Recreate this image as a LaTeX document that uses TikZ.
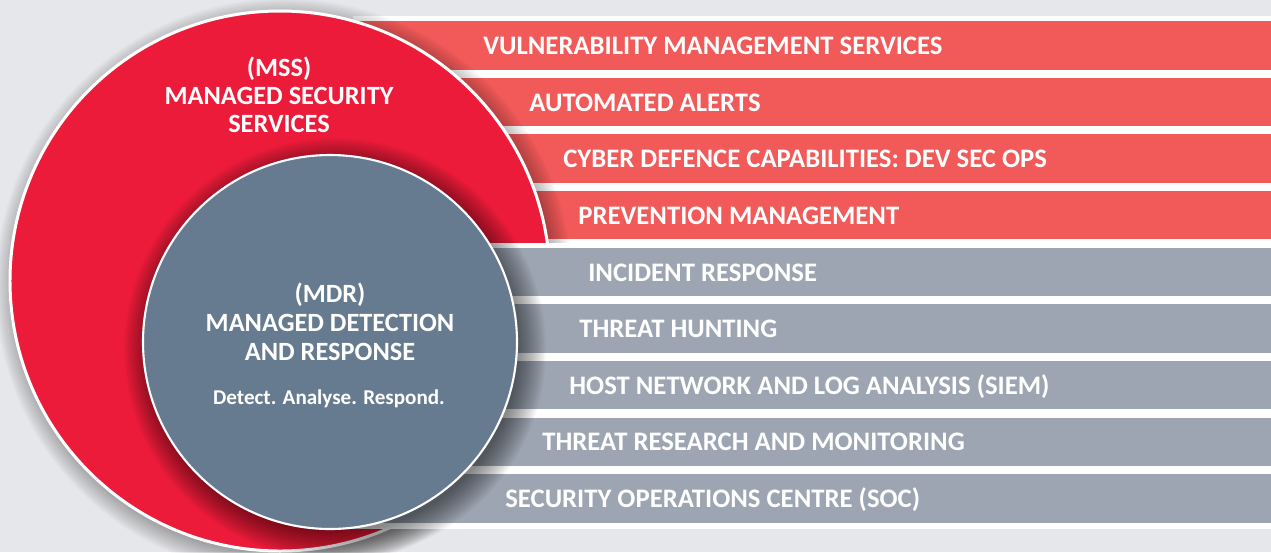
\documentclass[tikz,border=0pt]{standalone}
\usepackage{fontspec}
\setmainfont{Carlito}
\usepackage{tikz}

\definecolor{bgcol}{HTML}{E6E7EA}
\definecolor{msscol}{HTML}{ED1B3A}
\definecolor{mdrcol}{HTML}{667B8F}
\definecolor{barred}{HTML}{F15A59}
\definecolor{bargrey}{HTML}{9DA5B2}

\tikzset{
  barlabel/.style={anchor=base west, inner sep=0pt, text=white, font=\fontsize{15.2}{18}\selectfont\bfseries},
  circlabel/.style={anchor=base, inner sep=0pt, text=white, font=\fontsize{15}{18}\selectfont\bfseries},
  taglabel/.style={anchor=base, inner sep=0pt, text=white, font=\fontsize{12}{14}\selectfont\bfseries},
}

\begin{document}
\begin{tikzpicture}[x=0.02cm,y=-0.02cm]
        \fill[bgcol] (0,0) rectangle (1271,552);
        \useasboundingbox (0,0) rectangle (1271,552);
        % red bars, behind the outer circle
        \fill[white] (353,16) rectangle (1271,245);
        \fill[barred] (353,21) rectangle (1271,69.5);
        \fill[barred] (353,77.65) rectangle (1271,126.15);
        \fill[barred] (353,134.3) rectangle (1271,182.8);
        \fill[barred] (353,190.95) rectangle (1271,239.45);
        \node[barlabel] (vuln) at (483,54.5) {VULNERABILITY MANAGEMENT SERVICES};
        \node[barlabel] (alerts) at (529,111) {AUTOMATED ALERTS};
        \node[barlabel] (cyber) at (563,167.5) {CYBER DEFENCE CAPABILITIES: DEV SEC OPS};
        \node[barlabel] (prev) at (578,224.2) {PREVENTION MANAGEMENT};
        % outer circle
        \foreach \k in {1,...,14}
            \fill[black, opacity=0.025] (284,287) circle[radius=266+\k*1.6];
        \filldraw[fill=msscol, draw=white, line width=1.7pt] (280,281) circle[radius=270];
        \node[circlabel] (mss) at (279,76) {(MSS)};
        \node[circlabel] (mssname) at (279,104) {MANAGED SECURITY};
        \node[circlabel] (mssname2) at (279,132.5) {SERVICES};
        % grey bars, over the outer circle
        \fill[white] (340,242.5) rectangle (1271,529);
        \fill[bargrey] (340,247.6) rectangle (1271,296.1);
        \fill[bargrey] (340,304.25) rectangle (1271,352.75);
        \fill[bargrey] (340,360.9) rectangle (1271,409.4);
        \fill[bargrey] (340,417.55) rectangle (1271,466.05);
        \fill[bargrey] (340,474.2) rectangle (1271,522.7);
        \node[barlabel] (incid) at (588,281) {INCIDENT RESPONSE};
        \node[barlabel] (hunt) at (579,337.5) {THREAT HUNTING};
        \node[barlabel] (siem) at (569,394.2) {HOST NETWORK AND LOG ANALYSIS (SIEM)};
        \node[barlabel] (research) at (542,450.8) {THREAT RESEARCH AND MONITORING};
        \node[barlabel] (soc) at (505,507.5) {SECURITY OPERATIONS CENTRE (SOC)};
        % inner circle
        \foreach \k in {1,...,16}
            \fill[black, opacity=0.035] (335,349) circle[radius=182+\k*1.8];
        \filldraw[fill=mdrcol, draw=white, line width=1.2pt] (330,342) circle[radius=187];
        \node[circlabel] (mdr) at (330,302.5) {(MDR)};
        \node[circlabel] (mdrname) at (330,331.5) {MANAGED DETECTION};
        \node[circlabel] (mdrname2) at (330,360) {AND RESPONSE};
        \node[taglabel] (motto) at (329,404.5) {Detect. Analyse. Respond.};
    \end{tikzpicture}
\end{document}
